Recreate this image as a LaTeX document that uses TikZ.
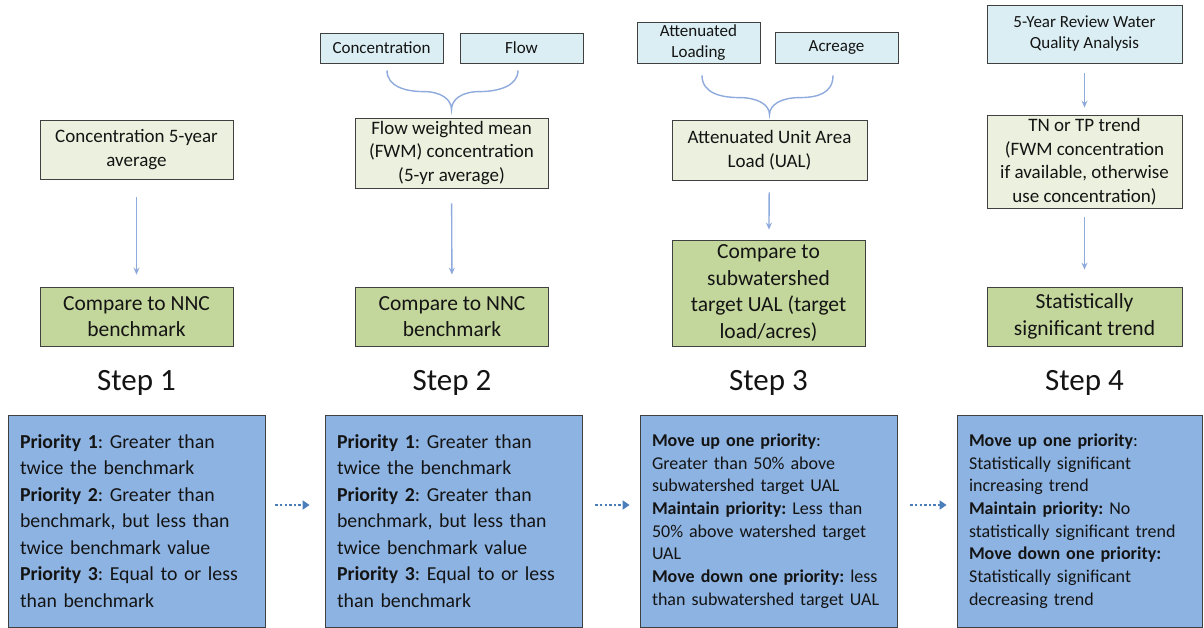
\documentclass[tikz,border=0pt]{standalone}
\usepackage{fontspec}
\setmainfont{Carlito}
\usetikzlibrary{arrows.meta}
\definecolor{inbox}{HTML}{DAEEF3}
\definecolor{calcbox}{HTML}{EBF1DE}
\definecolor{cmpbox}{HTML}{C3D69B}
\definecolor{pribox}{HTML}{8DB3E2}
\definecolor{flowline}{HTML}{8FAADC}
\definecolor{nextline}{HTML}{4A7EBB}
\definecolor{edge}{HTML}{404040}
\begin{document}
\begin{tikzpicture}[x=1pt,y=-1pt,
    box/.style={draw=edge,line width=0.8pt,inner sep=0pt,align=center,text=black!92,execute at begin node=\frenchspacing},
    input/.style={box,fill=inbox,font=\fontsize{17}{21}\selectfont},
    calc/.style={box,fill=calcbox,font=\fontsize{19}{23.5}\selectfont},
    compare/.style={box,fill=cmpbox,font=\fontsize{21.5}{26.5}\selectfont},
    rules/.style={box,fill=pribox,align=left,inner xsep=12pt,minimum height=212pt},
    steplabel/.style={font=\fontsize{31}{36}\selectfont,text=black!92},
    flow/.style={draw=flowline,line width=1.4pt,-{Stealth[length=7pt,width=6pt]}},
    next/.style={draw=nextline,line width=2.6pt,dash pattern=on 2.4pt off 2.2pt,-{Triangle[length=7pt,width=9pt]}},
    brace/.style={draw=flowline,line width=1.4pt}]
    \useasboundingbox (0,0) rectangle (1204,628);
    % step 1
    \node[calc,minimum width=193pt,minimum height=59pt] (s1avg) at (136.5,149.5) {Concentration 5-year\\average};
    \node[compare,minimum width=193pt,minimum height=59pt] (s1cmp) at (136.5,316.5) {Compare to NNC\\benchmark};
    \node[steplabel] (s1lbl) at (136.5,383) {Step 1};
    \node[rules,text width=233pt,font=\fontsize{19.8}{26.5}\selectfont] (s1pri) at (136.5,521)
        {\textbf{Priority 1}: Greater than\\twice the benchmark\\\textbf{Priority 2}: Greater than\\benchmark, but less than\\twice benchmark value\\\textbf{Priority 3}: Equal to or less\\than benchmark};
    \draw[flow,shorten <=18pt,shorten >=12pt] (s1avg) -- (s1cmp);
    % step 2
    \node[input,minimum width=123pt,minimum height=30pt] (s2conc) at (381.5,48) {Concentration};
    \node[input,minimum width=123pt,minimum height=30pt] (s2flow) at (521.5,48) {Flow};
    \node[calc,minimum width=193pt,minimum height=70pt] (s2fwm) at (451.5,153) {Flow weighted mean\\(FWM) concentration\\(5-yr average)};
    \node[compare,minimum width=193pt,minimum height=59pt] (s2cmp) at (452,316.5) {Compare to NNC\\benchmark};
    \node[steplabel] (s2lbl) at (452,383) {Step 2};
    \node[rules,text width=233pt,font=\fontsize{19.8}{26.5}\selectfont] (s2pri) at (453.5,521)
        {\textbf{Priority 1}: Greater than\\twice the benchmark\\\textbf{Priority 2}: Greater than\\benchmark, but less than\\twice benchmark value\\\textbf{Priority 3}: Equal to or less\\than benchmark};
    \coordinate (b2l) at ([shift={(5.5,7)}]s2conc.south);
    \coordinate (b2r) at ([shift={(-3.5,7)}]s2flow.south);
    \coordinate (b2t) at ([shift={(0,-8)}]s2fwm.north);
    \draw[brace] (b2l) .. controls +(0,16) and +(-18,0) .. ([shift={(-28,-18)}]b2t)
        .. controls +(18,0) and +(0,-10) .. (b2t)
        .. controls +(0,-10) and +(-18,0) .. ([shift={(28,-18)}]b2t)
        .. controls +(18,0) and +(0,16) .. (b2r);
    \draw[flow,shorten <=15pt,shorten >=12pt] (s2fwm) -- (s2cmp);
    % step 3
    \node[input,minimum width=123pt,minimum height=41pt] (s3load) at (698.5,42.5) {Attenuated\\Loading};
    \node[input,minimum width=123pt,minimum height=31pt] (s3acre) at (836.5,47.5) {Acreage};
    \node[calc,minimum width=195pt,minimum height=60pt] (s3ual) at (769.5,150) {Attenuated Unit Area\\Load (UAL)};
    \node[compare,minimum width=193pt,minimum height=106pt] (s3cmp) at (768.5,293) {Compare to\\subwatershed\\target UAL (target\\load/acres)};
    \node[steplabel] (s3lbl) at (768.5,383) {Step 3};
    \node[rules,text width=233pt,font=\fontsize{18}{22.7}\selectfont] (s3pri) at (768.5,521)
        {\textbf{Move up one priority}:\\Greater than 50\% above\\subwatershed target UAL\\\textbf{Maintain priority:} Less than\\50\% above watershed target\\UAL\\\textbf{Move down one priority:} less\\than subwatershed target UAL};
    \coordinate (b3l) at ([shift={(3.5,12)}]s3load.south);
    \coordinate (b3r) at ([shift={(-3.5,12)}]s3acre.south);
    \coordinate (b3t) at ([shift={(0,-5)}]s3ual.north);
    \draw[brace] (b3l) .. controls +(0,18) and +(-18,0) .. ([shift={(-30,-17)}]b3t)
        .. controls +(18,0) and +(0,-10) .. (b3t)
        .. controls +(0,-10) and +(-18,0) .. ([shift={(30,-17)}]b3t)
        .. controls +(18,0) and +(0,18) .. (b3r);
    \draw[flow,shorten <=12pt,shorten >=10pt] (s3ual) -- (s3cmp);
    % step 4
    \node[input,minimum width=195pt,minimum height=58pt] (s4wq) at (1084.5,34) {5-Year Review Water\\Quality Analysis};
    \node[calc,minimum width=195pt,minimum height=93pt] (s4trend) at (1084.5,161.5) {TN or TP trend\\(FWM concentration\\if available, otherwise\\use concentration)};
    \node[compare,minimum width=195pt,minimum height=59pt] (s4sig) at (1084.5,316.5) {Statistically\\significant trend};
    \node[steplabel] (s4lbl) at (1084.5,383) {Step 4};
    \node[rules,text width=221pt,font=\fontsize{18}{22.7}\selectfont] (s4pri) at (1079.5,521)
        {\textbf{Move up one priority}:\\Statistically significant\\increasing trend\\\textbf{Maintain priority:} No\\statistically significant trend\\\textbf{Move down one priority:}\\Statistically significant\\decreasing trend};
    \draw[flow,shorten <=10pt,shorten >=7pt] (s4wq) -- (s4trend);
    \draw[flow,shorten <=9pt,shorten >=17pt] (s4trend) -- (s4sig);
    % between the steps
    \draw[next,shorten <=10pt,shorten >=15pt] ([yshift=16pt]s1pri.east) -- ([yshift=16pt]s2pri.west);
    \draw[next,shorten <=13pt,shorten >=10pt] ([yshift=16pt]s2pri.east) -- ([yshift=16pt]s3pri.west);
    \draw[next,shorten <=13pt,shorten >=10pt] ([yshift=16pt]s3pri.east) -- ([yshift=16pt]s4pri.west);
\end{tikzpicture}
\end{document}
